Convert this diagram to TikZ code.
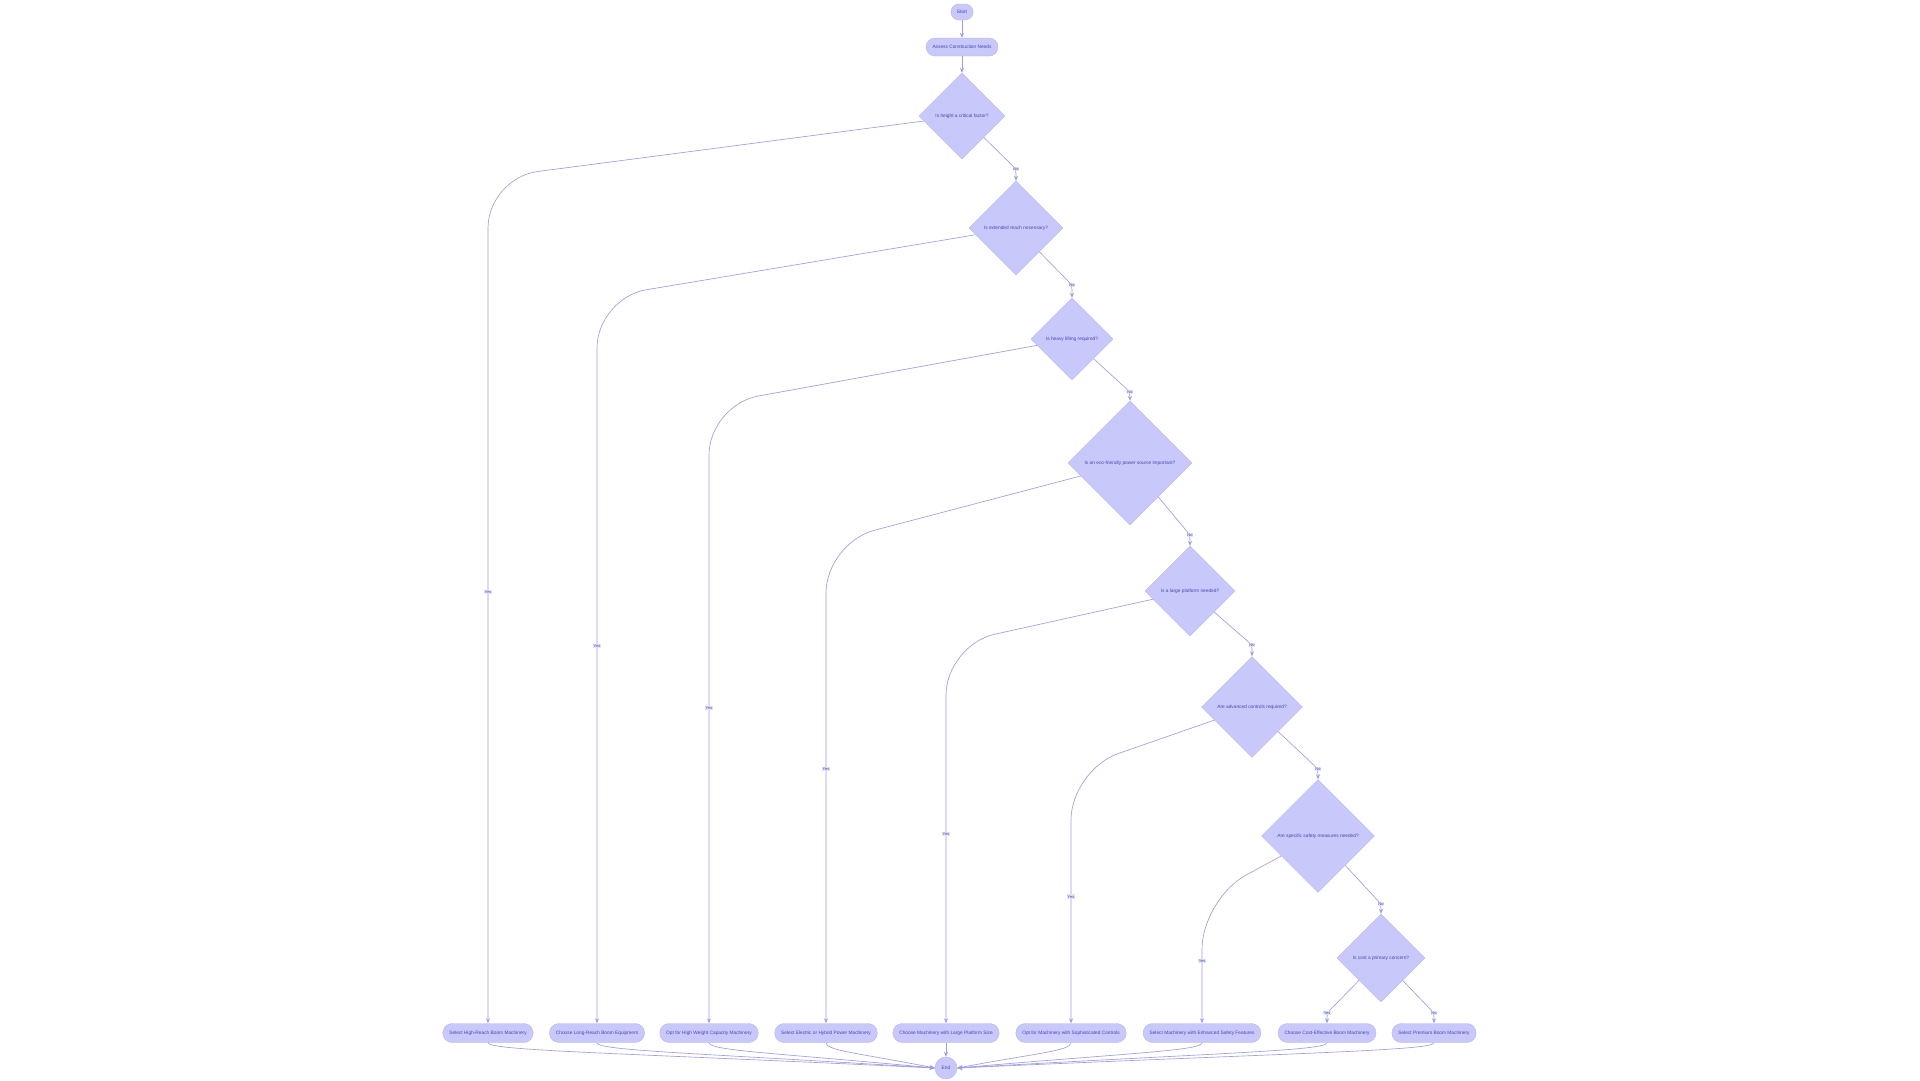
\documentclass[tikz,border=0pt]{standalone}
\usepackage{fontspec}
\setmainfont{Liberation Sans}
\usetikzlibrary{shapes.geometric, arrows.meta}

\definecolor{boxfill}{RGB}{200,200,250}
\definecolor{boxline}{RGB}{182,182,240}
\definecolor{flowline}{RGB}{158,158,224}
\definecolor{inktext}{RGB}{70,70,180}
\definecolor{tagfill}{RGB}{226,226,248}

\begin{document}
\begin{tikzpicture}[
  x=1pt, y=-1pt, >={Stealth[length=5pt,width=4pt]},
  font=\fontsize{4.8}{5.5}\selectfont,
  terminal/.style={rectangle, rounded corners=8pt, fill=boxfill, draw=boxline, line width=0.4pt, text=inktext, minimum height=16pt, inner xsep=6pt, inner ysep=0pt},
  process/.style={rectangle, rounded corners=9.5pt, fill=boxfill, draw=boxline, line width=0.4pt, text=inktext, minimum height=19pt, inner xsep=6.5pt, inner ysep=0pt},
  decision/.style={diamond, aspect=1, fill=boxfill, draw=boxline, line width=0.4pt, text=inktext, inner sep=1pt},
  flow/.style={->, draw=flowline, line width=0.65pt},
  longbend/.style={rounded corners=50pt},
  shortbend/.style={rounded corners=5pt},
  tag/.style={sharp corners, draw=none, fill=tagfill, text=inktext, font=\fontsize{4}{4.5}\selectfont, inner sep=0.8pt}
]
\path[use as bounding box, fill=white] (0,0) rectangle (1920,1080);

% start and first step
\node[terminal] (start)  at (962,12) {Start};
\node[terminal, minimum height=18pt, rounded corners=9pt, inner xsep=6.5pt] (assess) at (962,47) {Assess Construction Needs};

% chain of questions
\node[decision, minimum size=86pt]  (height)   at (962,116)  {Is height a critical factor?};
\node[decision, minimum size=94pt]  (reach)    at (1016,228) {Is extended reach necessary?};
\node[decision, minimum size=82pt]  (lifting)  at (1072,339) {Is heavy lifting required?};
\node[decision, minimum size=124pt] (eco)      at (1130,463) {Is an eco-friendly power source important?};
\node[decision, minimum size=90pt]  (platform) at (1190,591) {Is a large platform needed?};
\node[decision, minimum size=101pt] (controls) at (1252,707) {Are advanced controls required?};
\node[decision, minimum size=113pt] (safety)   at (1318,836) {Are specific safety measures needed?};
\node[decision, minimum size=88pt]  (cost)     at (1381,958) {Is cost a primary concern?};

% choices along the bottom
\node[process] (hrboom)    at (488,1033)  {Select High-Reach Boom Machinery};
\node[process] (lrboom)    at (597,1033)  {Choose Long-Reach Boom Equipment};
\node[process] (heavycap)  at (709,1033)  {Opt for High Weight Capacity Machinery};
\node[process] (electric)  at (826,1033)  {Select Electric or Hybrid Power Machinery};
\node[process] (bigplat)   at (946,1033)  {Choose Machinery with Large Platform Size};
\node[process] (sophctl)   at (1071,1033) {Opt for Machinery with Sophisticated Controls};
\node[process] (safefeat)  at (1202,1033) {Select Machinery with Enhanced Safety Features};
\node[process] (cheapboom) at (1327,1033) {Choose Cost-Effective Boom Machinery};
\node[process] (premboom)  at (1434,1033) {Select Premium Boom Machinery};
\node[terminal, circle, minimum size=22pt, inner sep=0pt] (finish) at (946,1068) {End};

% top
\draw[flow] (start) -- (assess);
\draw[flow] (assess) -- (height);

% Yes branches
\draw[flow, longbend] (height)   -- (488,178)  -- node[tag, pos=0.49]{Yes} (hrboom.north);
\draw[flow, longbend] (reach)    -- (597,298)  -- node[tag, pos=0.48]{Yes} (lrboom.north);
\draw[flow, longbend] (lifting)  -- (709,405)  -- node[tag, pos=0.49]{Yes} (heavycap.north);
\draw[flow, longbend] (eco)      -- (826,543)  -- node[tag, pos=0.47]{Yes} (electric.north);
\draw[flow, longbend] (platform) -- (946,645)  -- node[tag]{Yes} (bigplat.north);
\draw[flow, longbend] (controls) -- (1071,770) -- node[tag]{Yes} (sophctl.north);
\draw[flow, longbend] (safety)   -- (1202,899) -- node[tag]{Yes} (safefeat.north);

% No branches
\draw[flow, shortbend] (height)   -- (1016,169) node[tag]{No} -- (reach);
\draw[flow, shortbend] (reach)    -- (1072,285) node[tag]{No} -- (lifting);
\draw[flow, shortbend] (lifting)  -- (1130,392) node[tag]{No} -- (eco);
\draw[flow, shortbend] (eco)      -- (1190,535) node[tag]{No} -- (platform);
\draw[flow, shortbend] (platform) -- (1252,645) node[tag]{No} -- (controls);
\draw[flow, shortbend] (controls) -- (1318,769) node[tag]{No} -- (safety);
\draw[flow, shortbend] (safety)   -- (1381,904) node[tag]{No} -- (cost);
\draw[flow, shortbend] (cost)     -- (1327,1013) node[tag]{Yes} -- (cheapboom.north);
\draw[flow, shortbend] (cost)     -- (1434,1013) node[tag]{No} -- (premboom.north);

% into the end
\draw[flow] (hrboom.south)    .. controls +(0,8) and +(-313,-15) .. (finish.west);
\draw[flow] (lrboom.south)    .. controls +(0,8) and +(-237,-15) .. (finish.west);
\draw[flow] (heavycap.south)  .. controls +(0,8) and +(-158,-15) .. (finish.west);
\draw[flow] (electric.south)  .. controls +(0,8) and +(-76,-15) .. (finish.west);
\draw[flow] (bigplat) -- (finish);
\draw[flow] (sophctl.south)   .. controls +(0,8) and +(80,-15) .. (finish.east);
\draw[flow] (safefeat.south)  .. controls +(0,8) and +(171,-15) .. (finish.east);
\draw[flow] (cheapboom.south) .. controls +(0,8) and +(259,-15) .. (finish.east);
\draw[flow] (premboom.south)  .. controls +(0,8) and +(334,-15) .. (finish.east);

\end{tikzpicture}
\end{document}
